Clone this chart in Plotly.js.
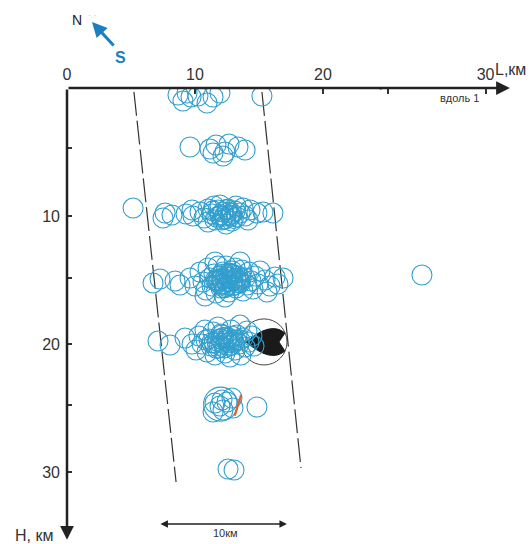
<!DOCTYPE html>
<html><head><meta charset="utf-8">
<script src="https://cdn.plot.ly/plotly-3.0.1.min.js"></script>
<style>html,body{margin:0;padding:0;background:#fff;}#chart{width:531px;height:544px;}</style>
</head><body><div id="chart"></div>
<script>
// Hypocentres, L (km along profile) and H (depth, km), grouped by depth layer
const row0L = [8.67, 9.06, 9.69, 10.23, 10.94, 11.41, 11.95, 15.23, 9.38];
const row0H = [0.55, 1.02, 0.70, 0.63, 1.17, 0.70, 0.39, 0.63, 0.39];

const row5L = [9.61, 11.17, 11.64, 11.41, 12.34, 12.19, 12.66, 13.36, 13.91];
const row5H = [4.61, 4.77, 4.45, 5.08, 5.00, 5.31, 4.38, 4.61, 4.84];

const row10L = [5.16, 7.66, 7.50, 8.20, 9.77, 9.84, 10.39, 10.70, 11.02, 11.33, 11.56, 11.80, 11.95, 12.19, 12.34, 12.58, 12.73, 12.89, 13.13, 13.28, 13.52, 13.75, 13.91, 14.30, 14.84, 15.31, 16.09, 11.02, 12.42, 11.48, 13.20, 14.14, 9.30, 11.95, 12.0, 12.6, 11.7, 12.3, 12.9, 11.4, 13.0, 12.1, 12.5, 12.8];
const row10H = [9.38, 9.77, 10.16, 9.92, 9.53, 10.00, 9.69, 10.16, 9.45, 9.84, 10.31, 9.53, 10.00, 9.69, 10.23, 9.45, 9.92, 10.39, 9.61, 10.08, 9.77, 9.38, 10.00, 9.53, 9.77, 9.69, 9.77, 10.47, 10.63, 9.22, 9.22, 10.31, 9.84, 9.14, 9.9, 9.7, 10.1, 10.0, 9.8, 9.6, 10.2, 10.3, 9.5, 10.0];

const row15L = [6.72, 7.27, 8.44, 8.83, 9.61, 10.00, 10.39, 10.63, 10.86, 11.02, 11.17, 11.33, 11.48, 11.64, 11.80, 11.88, 12.03, 12.19, 12.34, 12.42, 12.58, 12.66, 12.81, 12.97, 13.13, 13.20, 13.36, 13.52, 13.67, 13.75, 13.91, 14.06, 14.22, 14.38, 14.53, 14.69, 14.92, 15.08, 15.47, 15.86, 16.25, 16.48, 16.88, 15.63, 10.78, 12.34, 13.52, 11.56, 27.73, 11.9, 12.5, 13.0, 12.2, 12.8, 13.4, 11.6, 13.1, 12.1, 12.7, 13.3, 11.8, 12.4, 13.6, 12.9, 12.0, 12.6, 13.2, 11.7, 12.3, 12.9, 13.5, 12.45, 12.75, 12.15];
const row15H = [15.23, 14.92, 15.08, 15.39, 14.84, 15.47, 14.38, 15.16, 15.78, 14.06, 14.84, 15.47, 14.53, 16.02, 13.91, 15.08, 15.63, 14.38, 14.92, 13.91, 15.39, 15.94, 14.53, 15.00, 14.06, 15.63, 14.69, 15.23, 14.22, 15.86, 14.84, 15.39, 14.38, 15.08, 15.70, 14.69, 15.31, 14.30, 15.00, 15.47, 14.77, 15.31, 14.84, 15.94, 16.25, 16.33, 13.59, 13.59, 14.61, 14.7, 15.1, 14.6, 15.3, 14.5, 15.0, 15.0, 15.4, 14.9, 14.8, 15.2, 15.2, 15.5, 14.9, 14.3, 15.35, 14.45, 14.85, 15.05, 15.6, 15.45, 15.1, 14.75, 15.15, 14.55];

const row20L = [7.11, 8.05, 9.22, 9.77, 10.08, 10.31, 10.55, 10.78, 10.94, 11.09, 11.25, 11.41, 11.56, 11.72, 11.88, 12.03, 12.19, 12.34, 12.50, 12.66, 12.81, 12.97, 13.13, 13.28, 13.44, 13.59, 13.75, 13.91, 14.06, 14.22, 14.45, 14.61, 11.80, 12.73, 10.86, 13.52, 12.0, 12.6, 11.5, 13.2, 12.3, 11.9, 12.9, 13.5, 12.2, 11.3, 12.45, 12.1, 12.85, 13.05, 11.7, 12.55];
const row20H = [19.77, 20.08, 19.53, 20.00, 20.47, 19.38, 20.00, 18.91, 20.63, 19.61, 20.16, 19.06, 20.86, 19.77, 20.31, 19.22, 19.92, 20.70, 19.45, 20.16, 18.91, 19.69, 20.47, 19.30, 20.00, 20.86, 19.53, 20.23, 18.98, 19.84, 19.38, 20.16, 18.67, 21.02, 19.69, 18.52, 19.6, 19.9, 19.9, 19.7, 20.3, 20.1, 19.4, 19.7, 19.5, 19.9, 19.75, 19.3, 20.1, 19.85, 20.35, 19.55];

const row25L = [11.56, 11.95, 12.50, 12.19, 12.89, 12.97, 11.41, 14.84, 12.11];
const row25H = [24.61, 24.84, 24.53, 25.16, 24.22, 25.00, 25.31, 24.92, 24.38];

const row30L = [12.58, 13.05];
const row30H = [29.77, 29.84];

const bigL = [12.0];
const bigH = [24.7];

// Axis ticks
const xTickVals = [0, 10, 20, 25.1, 32.7];
const xTickText = ["0", "10", "20", "", "30"];
const yTickVals = [4.7, 10, 14.85, 20, 24.8, 30];
const yTickText = ["", "10", "", "20", "", "30"];

// Band boundaries (dashed), L/H endpoints
const leftBandL = [5.23, 8.52];
const leftBandH = [0.3, 30.78];
const rightBandL = [15.23, 18.28];
const rightBandH = [0.31, 29.69];

// Red rupture segment
const ruptL = [13.6, 13.1];
const ruptH = [24.0, 25.6];

const allL = [].concat(row0L, row5L, row10L, row15L, row20L, row25L, row30L);
const allH = [].concat(row0H, row5H, row10H, row15H, row20H, row25H, row30H);

const blue = 'rgb(50,158,205)';
const font = 'Liberation Sans, Arial, sans-serif';

const traces = [
  {x: leftBandL, y: leftBandH, mode: 'lines', line: {color: '#333', width: 1.2, dash: '24px,5px'}, hoverinfo: 'skip'},
  {x: rightBandL, y: rightBandH, mode: 'lines', line: {color: '#333', width: 1.2, dash: '24px,5px'}, hoverinfo: 'skip'},
  {x: allL, y: allH, mode: 'markers', marker: {symbol: 'circle-open', size: 20, color: blue, line: {width: 1.1, color: blue}}},
  {x: bigL, y: bigH, mode: 'markers', marker: {symbol: 'circle-open', size: 34, color: blue, line: {width: 1.1, color: blue}}},
  {x: ruptL, y: ruptH, mode: 'lines', line: {color: '#e0602a', width: 2.2}}
];

// Focal mechanism
const fmC = [15.39, 19.84];
const fmR = 1.8;

// paper coordinates helpers for items outside the data range
const px = v => (v - 67) / 460;
const py = v => 1 - (v - 88) / 454;

const txt = (x, y, text, size, color) => ({x: x, y: y, xref: 'paper', yref: 'paper', text: text, showarrow: false,
  xanchor: 'center', yanchor: 'middle', font: {family: font, size: size, color: color}});

const layout = {
  width: 531, height: 544, autosize: false,
  margin: {l: 67, r: 4, t: 88, b: 2},
  paper_bgcolor: '#fff', plot_bgcolor: 'rgba(0,0,0,0)',
  showlegend: false,
  xaxis: {range: [0, 460/12.8], side: 'top', showgrid: false, zeroline: false, showline: false,
    ticks: 'inside', ticklen: 6, tickwidth: 2, tickcolor: '#333',
    tickmode: 'array', tickvals: xTickVals, ticktext: xTickText,
    tickfont: {family: font, size: 16, color: '#333'}, ticklabelstandoff: 4, fixedrange: true},
  yaxis: {range: [454/12.8, 0], showgrid: false, zeroline: false, showline: false,
    ticks: 'inside', ticklen: 5, tickwidth: 2, tickcolor: '#333',
    tickmode: 'array', tickvals: yTickVals, ticktext: yTickText,
    tickfont: {family: font, size: 16, color: '#333'}, ticklabelstandoff: 6, fixedrange: true},
  shapes: [
    {type: 'path', layer: 'below', xref: 'x', yref: 'y',
     path: 'M 14.0 19.84 Q 15.9 18.2 17.03 19.14 L 16.56 19.84 L 17.03 20.55 Q 15.9 21.5 14.0 19.84 Z',
     fillcolor: '#1a1a1a', line: {color: '#1a1a1a', width: 1}},
    {type: 'circle', layer: 'below', xref: 'x', yref: 'y',
     x0: fmC[0] - fmR, x1: fmC[0] + fmR, y0: fmC[1] - fmR, y1: fmC[1] + fmR,
     line: {color: '#444', width: 1}},
    {type: 'line', xref: 'x', yref: 'y', x0: 24.5, x1: 24.5, y0: -0.15, y1: 0.15, line: {color: '#e0602a', width: 2}}
  ],
  annotations: [
    {x: 34.6, y: 0, ax: 0, ay: 0, axref: 'x', ayref: 'y', xref: 'x', yref: 'y', text: '', showarrow: true, arrowhead: 2, arrowsize: 1.1, arrowwidth: 2.5, arrowcolor: '#222', standoff: 0},
    {x: 0, y: 35.3, ax: 0, ay: 0, axref: 'x', ayref: 'y', xref: 'x', yref: 'y', text: '', showarrow: true, arrowhead: 2, arrowsize: 1.1, arrowwidth: 2.5, arrowcolor: '#222', standoff: 0},
    {x: px(92), y: py(22), ax: 23, ay: 25, xref: 'paper', yref: 'paper', text: '', showarrow: true, arrowhead: 2, arrowsize: 1, arrowwidth: 3, arrowcolor: '#1a80c0', standoff: 0},
    {x: 7.3, y: 34.06, ax: 17.3, ay: 34.06, axref: 'x', ayref: 'y', xref: 'x', yref: 'y', text: '', showarrow: true, arrowhead: 2, startarrowhead: 2, arrowside: 'end+start', arrowsize: 1, arrowwidth: 1.5, arrowcolor: '#222', standoff: 0, startstandoff: 0},
    {x: 12.42, y: 34.8, xref: 'x', yref: 'y', text: '10км', showarrow: false, xanchor: 'center', yanchor: 'middle', font: {family: font, size: 11, color: '#333'}},
    txt(px(77), py(20), 'N', 14, '#222'),
    txt(px(92), py(15), '· ·', 9, '#9cc8e0'),
    txt(px(120), py(58), '<b>S</b>', 16, '#1a80c0'),
    txt(px(510), py(70), 'L,км', 16, '#333'),
    {x: 30.7, y: 0.75, xref: 'x', yref: 'y', text: 'вдоль 1', showarrow: false, xanchor: 'center', yanchor: 'middle', font: {family: font, size: 11, color: '#333'}},
    txt(px(34), py(535), 'H, км', 16, '#333')
  ]
};

Plotly.newPlot('chart', traces, layout, {displayModeBar: false, staticPlot: true});
</script>
</body></html>
